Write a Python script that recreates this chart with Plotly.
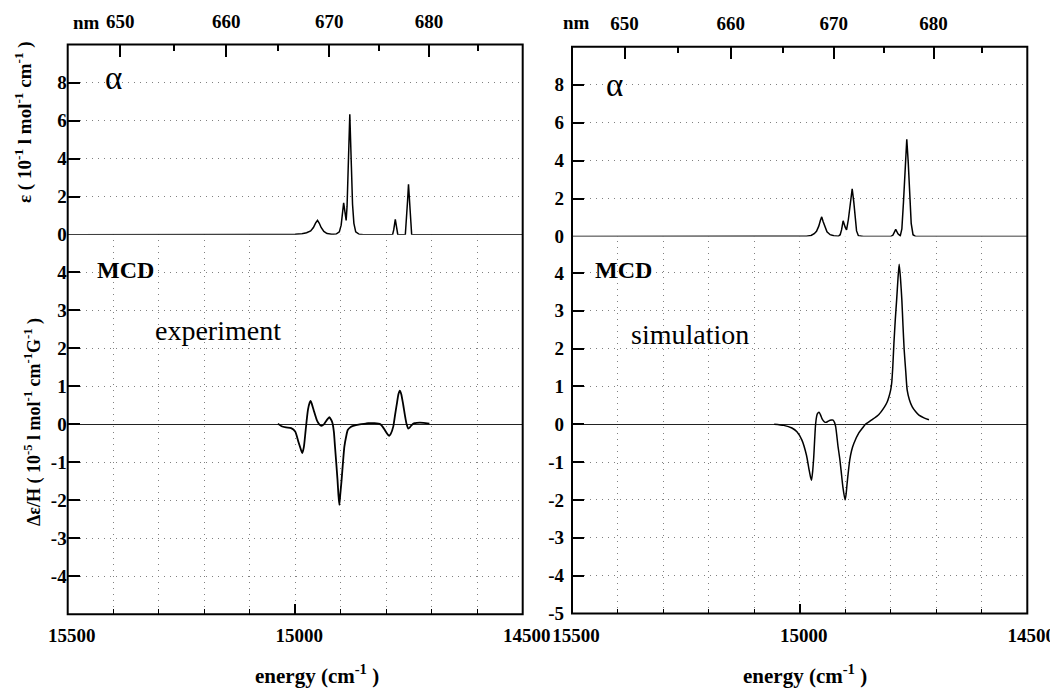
import plotly.graph_objects as go

# ---------------- data ----------------
energy_ticks = [15500, 15000, 14500]
energy_minor = [15400, 15300, 15200, 15100, 14900, 14800, 14700, 14600]
nm_major = [650, 660, 670, 680]
nm_minor = [655, 665, 675, 685]
eps_ticks = [0, 2, 4, 6, 8]
mcd_ticks_left = [-4, -3, -2, -1, 0, 1, 2, 3, 4]
mcd_ticks_right = [-5, -4, -3, -2, -1, 0, 1, 2, 3, 4]

# experiment: absorption (epsilon, 10^-1 l mol^-1 cm^-1)
left_eps_E = [15500, 15020, 15000, 14985, 14975, 14966, 14960, 14955, 14951, 14947,
              14943, 14937, 14930, 14920, 14910, 14903, 14899, 14896, 14893.5, 14891,
              14888, 14886, 14883.5, 14880, 14876.5, 14874, 14871, 14867, 14860, 14850,
              14786, 14783.5, 14780, 14777, 14774.5, 14758, 14755.5, 14753, 14751, 14749,
              14746.5, 14744, 14500]
left_eps = [0, 0, 0.02, 0.05, 0.1, 0.2, 0.38, 0.62, 0.75, 0.6,
            0.38, 0.17, 0.06, 0.02, 0.03, 0.15, 0.5, 1.15, 1.67, 1.25,
            0.75, 1.5, 3.6, 6.33, 3.6, 1.6, 0.6, 0.15, 0.03, 0,
            0, 0.25, 0.8, 0.25, 0, 0, 0.7, 1.8, 2.65, 1.8,
            0.6, 0, 0]

# experiment: MCD (10^-5 l mol^-1 cm^-1 G^-1)
left_mcd_E = [15038, 15030, 15020, 15009, 15000, 14993, 14987, 14984.5, 14981, 14977,
              14972, 14968, 14966, 14963, 14959.5, 14952, 14947, 14942.5, 14937, 14933,
              14928, 14925, 14921, 14918, 14915, 14912.5, 14907, 14905, 14903, 14901,
              14898, 14892, 14888, 14884.5, 14878, 14872.5, 14858, 14845, 14839.5, 14826,
              14812.5, 14808, 14803, 14797, 14793.5, 14790, 14784.5, 14780.5, 14777, 14773,
              14770, 14767, 14762.5, 14758, 14755, 14751.5, 14748, 14744, 14738, 14733,
              14718, 14705]
left_mcd = [0.02, -0.05, -0.08, -0.1, -0.19, -0.46, -0.68, -0.76, -0.6, -0.15,
            0.38, 0.58, 0.62, 0.52, 0.38, 0.1, 0.0, -0.04, 0.0, 0.07,
            0.15, 0.19, 0.12, 0.03, -0.2, -0.59, -1.46, -1.85, -2.12, -1.85,
            -1.46, -0.59, -0.32, -0.15, -0.07, -0.04, 0, 0.02, 0.03, 0.03,
            0, -0.06, -0.15, -0.26, -0.3, -0.25, -0.06, 0.25, 0.51, 0.8,
            0.89, 0.8, 0.51, 0.18, 0.0, -0.11, -0.08, -0.02, 0.03, 0.04,
            0.04, 0.02]

# simulation: absorption
right_eps_E = [15500, 15000, 14985, 14975, 14968, 14963, 14958, 14954.5, 14951.5, 14948.5,
               14945, 14940, 14933, 14925, 14915, 14911, 14908, 14904.5, 14900, 14897,
               14893, 14889, 14884.6, 14881, 14878, 14875, 14871, 14860, 14800, 14795,
               14789, 14784, 14779, 14775.5, 14772, 14768, 14764.7, 14761.5, 14758.5, 14755,
               14751, 14745, 14500]
right_eps = [0, 0, 0.02, 0.06, 0.15, 0.28, 0.55, 0.85, 1.04, 0.8,
             0.52, 0.25, 0.1, 0.04, 0.02, 0.1, 0.35, 0.83, 0.5, 0.35,
             0.9, 1.8, 2.52, 1.8, 0.9, 0.3, 0.05, 0, 0, 0.08,
             0.38, 0.15, 0.04, 0.4, 1.8, 3.9, 5.13, 3.9, 2.2, 0.7,
             0.1, 0, 0]

# simulation: MCD
right_mcd_E = [15056, 15035, 15017, 15006, 14995, 14985, 14979, 14976, 14974, 14971.5,
               14969, 14967, 14965, 14962.5, 14961, 14957.4, 14954, 14951, 14947, 14943.5,
               14940, 14936, 14930, 14926.6, 14923.5, 14920.8, 14915.6, 14912, 14909, 14905,
               14900.2, 14898, 14895.8, 14890, 14886, 14881, 14870, 14862, 14855.5, 14848,
               14840.8, 14826, 14813.6, 14808, 14804, 14800.5, 14798, 14795.5, 14793, 14790,
               14787, 14784, 14781.4, 14778.5, 14775.5, 14773, 14770.4, 14767, 14763.8, 14759,
               14752.7, 14745, 14738, 14727, 14716]
right_mcd = [0, -0.03, -0.1, -0.2, -0.42, -0.82, -1.22, -1.4, -1.48, -1.25,
             -0.86, -0.4, 0.0, 0.22, 0.28, 0.32, 0.24, 0.15, 0.08, 0.05,
             0.06, 0.09, 0.11, 0.11, 0.05, -0.07, -0.6, -0.9, -1.22, -1.66,
             -2.0, -1.85, -1.57, -0.95, -0.7, -0.51, -0.23, -0.1, 0.0, 0.06,
             0.12, 0.26, 0.46, 0.58, 0.72, 0.88, 1.07, 1.5, 2.13, 2.75,
             3.28, 3.85, 4.23, 3.85, 3.28, 2.6, 1.96, 1.4, 0.9, 0.65,
             0.46, 0.33, 0.24, 0.17, 0.12]

# ---------------- layout helpers ----------------
PAGE_W, PAGE_H = 1058, 689
OFF = 8                      # default body margin of the html page
W, H = PAGE_W - OFF, PAGE_H - OFF


def px(x):
    return (x - OFF) / W


def py(y):
    return 1 - (y - OFF) / H


SERIF = "Liberation Serif, Times New Roman, serif"
TICKFONT = dict(family=SERIF, size=19, color="black")
GRID = dict(gridcolor="#808080", gridwidth=1, griddash="1px,5px")
E_RANGE = [15500, 14500]


def bold(v):
    return "<b>%s</b>" % v


panels = {
    "L": dict(x0=67.7, x1=522.7, top=44.5, umid=234.7, lmid=234.4, bot=614.3, stand=0),
    "R": dict(x0=572.0, x1=1027.3, top=46.7, umid=236.6, lmid=235.0, bot=613.5, stand=7),
}

fig = go.Figure()
curve = dict(color="black", width=1.5)

fig.add_trace(go.Scatter(x=left_mcd_E, y=left_mcd, xaxis="x", yaxis="y", mode="lines",
                         line=dict(color="black", width=1.8, shape="spline", smoothing=0.6)))
fig.add_trace(go.Scatter(x=left_eps_E, y=left_eps, xaxis="x2", yaxis="y2", mode="lines", line=curve))
fig.add_trace(go.Scatter(x=right_mcd_E, y=right_mcd, xaxis="x4", yaxis="y4", mode="lines",
                         line=dict(color="black", width=1.5, shape="spline", smoothing=0.6)))
fig.add_trace(go.Scatter(x=right_eps_E, y=right_eps, xaxis="x5", yaxis="y5", mode="lines", line=curve))

layout = dict(width=W, height=H, margin=dict(l=0, r=0, t=0, b=0, autoexpand=False),
              showlegend=False, plot_bgcolor="white", paper_bgcolor="white")


def set_panel(p, xl, yl, xu, yu, mcd_ticks):
    d = [px(p["x0"]), px(p["x1"])]
    # lower panel: energy axis
    layout["xaxis" + xl] = dict(
        domain=d, anchor="y" + yl, range=E_RANGE, tickmode="array", automargin=False,
        tickvals=energy_ticks, ticktext=[bold(v) for v in energy_ticks],
        ticks="inside", ticklen=10, tickwidth=1.5, tickcolor="black",
        tickfont=TICKFONT, ticklabelshift=-4, ticklabelstandoff=8,
        showgrid=True, showline=False, zeroline=False, **GRID,
        minor=dict(tickmode="array", tickvals=energy_minor, ticks="inside", ticklen=5,
                   tickwidth=1.2, tickcolor="black", showgrid=True, **GRID),
    )
    layout["yaxis" + yl] = dict(
        domain=[py(p["bot"]), py(p["lmid"])], anchor="x" + xl, range=[-5, 5],
        tickmode="array", tickvals=mcd_ticks, ticktext=[bold(v) for v in mcd_ticks],
        ticks="inside", ticklen=12, tickwidth=1.5, tickcolor="black", automargin=False,
        tickfont=TICKFONT, ticklabelstandoff=p["stand"],
        showgrid=True, showline=False, **GRID,
        zeroline=True, zerolinecolor="#222222", zerolinewidth=1,
    )
    # upper panel: wavelength (nm) ticks on top, energy grid in minor grid
    layout["xaxis" + xu] = dict(
        domain=d, anchor="y" + yu, side="top", range=E_RANGE, automargin=False,
        tickmode="array", tickvals=[1e7 / n for n in nm_major],
        ticktext=[bold(n) for n in nm_major], ticks="inside", ticklen=12,
        tickwidth=1.5, tickcolor="black", tickfont=TICKFONT, ticklabelstandoff=12,
        showgrid=False, showline=False, zeroline=False,
        minor=dict(tickmode="array", tickvals=[1e7 / n for n in nm_minor], ticks="inside",
                   ticklen=6, tickwidth=1.5, tickcolor="black", showgrid=False),
    )
    layout["yaxis" + yu] = dict(
        domain=[py(p["umid"]), py(p["top"])], anchor="x" + xu, range=[0, 10],
        tickmode="array", tickvals=eps_ticks, ticktext=[bold(v) for v in eps_ticks],
        ticks="inside", ticklen=12, tickwidth=1.5, tickcolor="black", automargin=False,
        tickfont=TICKFONT, ticklabelstandoff=p["stand"],
        showgrid=True, showline=False, zeroline=False, **GRID,
    )


set_panel(panels["L"], "", "", "2", "2", mcd_ticks_left)
set_panel(panels["R"], "4", "4", "5", "5", mcd_ticks_right)

shapes = []
# vertical energy grid of the upper panels (drawn through the upper x axes)
for xa, ya in (("x2", "y2"), ("x5", "y5")):
    for e in energy_minor + [15000]:
        shapes.append(dict(type="line", xref=xa, yref=ya + " domain", x0=e, x1=e, y0=0, y1=1,
                           line=dict(color="#808080", width=1, dash="1px,5px"), layer="below"))
for p in panels.values():
    shapes.append(dict(type="rect", xref="paper", yref="paper",
                       x0=px(p["x0"]), x1=px(p["x1"]), y0=py(p["bot"]), y1=py(p["top"]),
                       line=dict(color="black", width=2), fillcolor="rgba(0,0,0,0)", layer="above"))
layout["shapes"] = shapes


def ann(x, y, text, size, angle=0):
    return dict(xref="paper", yref="paper", x=px(x), y=py(y), text=text, showarrow=False,
                xanchor="center", yanchor="middle", textangle=angle,
                font=dict(family=SERIF, size=size, color="black"))


annotations = [
    ann(86, 23, "<b>nm</b>", 19),
    ann(576, 23, "<b>nm</b>", 19),
    ann(113, 78, "α", 33),
    ann(614, 85, "α", 33),
    ann(125, 270, "<b>MCD</b>", 24),
    ann(623, 270, "<b>MCD</b>", 24),
    ann(218, 330, "experiment", 28),
    ann(690, 335, "simulation", 28),
    ann(317, 674, "<b>energy (cm<sup>-1</sup> )</b>", 21),
    ann(805, 674, "<b>energy (cm<sup>-1</sup> )</b>", 21),
    ann(24, 122, "<b>ε ( 10<sup>-1</sup> l mol<sup>-1</sup> cm<sup>-1</sup> )</b>", 19, angle=-90),
    ann(33, 422, "<b>Δε/H ( 10<sup>-5</sup> l mol<sup>-1</sup> cm<sup>-1</sup>G<sup>-1</sup> )</b>", 18,
        angle=-90),
]
layout["annotations"] = annotations

fig.update_layout(**layout)
fig.write_html("out.html")
